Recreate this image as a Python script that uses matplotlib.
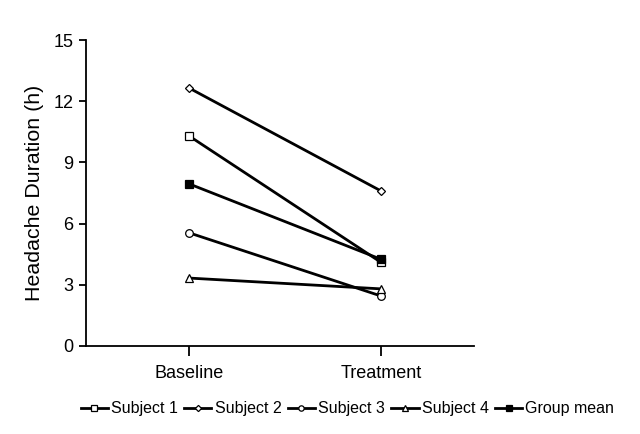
import matplotlib
matplotlib.use("Agg")
import matplotlib.pyplot as plt

plt.rcParams['font.family'] = ['Liberation Sans', 'DejaVu Sans']

conditions = ["Baseline", "Treatment"]
series_names = ["Subject 1", "Subject 2", "Subject 3", "Subject 4", "Group mean"]
subject1 = [10.3, 4.1]
subject2 = [12.65, 7.6]
subject3 = [5.55, 2.45]
subject4 = [3.33, 2.8]
group_mean = [7.95, 4.25]
yticks = [0, 3, 6, 9, 12, 15]

series = [subject1, subject2, subject3, subject4, group_mean]
markers = ["s", "D", "o", "^", "s"]
msizes = [6, 4.5, 5.5, 6, 6]
faces = ["white", "white", "white", "white", "black"]

fig = plt.figure(figsize=(6.4, 4.34), dpi=100)
ax = fig.add_axes([0.1344, 0.2028, 0.6062, 0.705])

x = list(range(len(conditions)))
handles = []
for vals, name, m, ms, fc in zip(series, series_names, markers, msizes, faces):
    h, = ax.plot(x, vals, color="black", lw=2.0, marker=m, ms=ms,
                 mfc=fc, mec="black", mew=0.9, label=name)
    handles.append(h)

ax.set_xlim(-0.536, 1.484)
ax.set_ylim(0, 15)
ax.set_xticks(x)
ax.set_xticklabels(conditions)
ax.set_yticks(yticks)
ax.spines["top"].set_visible(False)
ax.spines["right"].set_visible(False)
for s in ["left", "bottom"]:
    ax.spines[s].set_linewidth(1.3)
ax.tick_params(axis="y", direction="out", length=5, width=1.3, labelsize=13, pad=4)
ax.tick_params(axis="x", direction="out", length=7, width=1.3, labelsize=13, pad=7)
ax.set_ylabel("Headache Duration (h)", fontsize=15.4, labelpad=7)

fig.legend(handles=handles, labels=series_names, loc="center", ncol=5,
           bbox_to_anchor=(0.543, 0.058), frameon=False, fontsize=11.5,
           handlelength=1.7, handletextpad=0.2, columnspacing=0.4,
           markerscale=0.7)

fig.savefig("out.png", dpi=100)
